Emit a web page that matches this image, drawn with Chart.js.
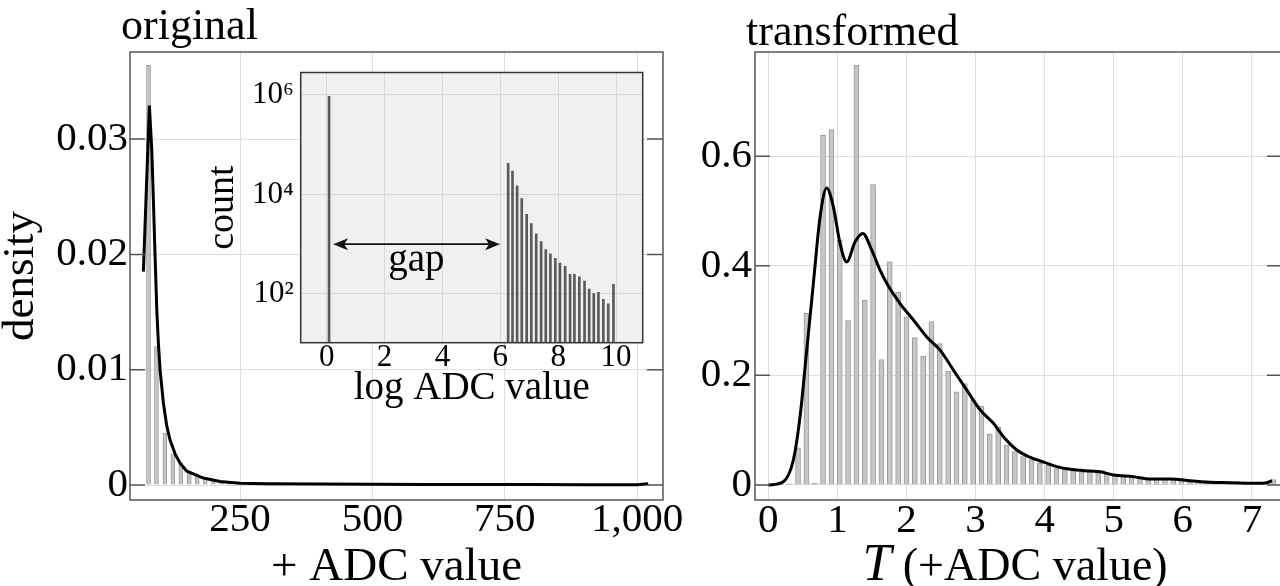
<!DOCTYPE html>
<html>
<head>
<meta charset="utf-8">
<script src="https://cdn.jsdelivr.net/npm/chart.js@4.4.0/dist/chart.umd.min.js"></script>
<style>
  html, body { margin: 0; padding: 0; background: #fff; overflow: hidden; }
  #lienzo { position: relative; width: 1280px; height: 586px; overflow: hidden; }
  canvas { position: absolute; }
  #izq { left: 0; top: 0; }
  #der { left: 690px; top: 0; }
  #inserto { left: 200px; top: 50px; }
</style>
</head>
<body>
<div id="lienzo">
  <canvas id="izq" width="690" height="586"></canvas>
  <canvas id="der" width="600" height="586"></canvas>
  <canvas id="inserto" width="450" height="360"></canvas>
</div>
<script>
// Panel izquierdo: histograma de los valores ADC originales
const binsOriginal = [77, 92, 108, 123, 138, 154, 169, 184, 199, 215, 230, 245, 261, 276, 291, 306,
  322, 337, 352, 368, 383, 398, 413, 429, 444, 459, 475, 490, 505, 520, 536, 551, 566, 582, 597,
  612, 627, 643, 658, 673, 689, 704, 719, 734, 750, 765, 780, 796, 811, 826, 841, 857, 872, 887,
  903, 918, 933, 948, 964, 979, 994, 1010];
const densOriginal = [0.0364, 0.012, 0.0045, 0.0027, 0.0019, 0.00116, 0.00087, 0.00058, 0.00043,
  0.00029, 0.00022, 0.00018, 0.00015, 0.00013, 0.00012, 0.00011, 0.0001, 0.0001, 0.00009, 0.00009,
  0.00008, 0.00008, 0.00007, 0.00007, 0.00007, 0.00006, 0.00006, 0.00006, 0.00006, 0.00005,
  0.00005, 0.00005, 0.00005, 0.00005, 0.00005, 0.00005, 0.00004, 0.00004, 0.00004, 0.00004,
  0.00004, 0.00004, 0.00004, 0.00004, 0.00004, 0.00004, 0.00003, 0.00003, 0.00003, 0.00003,
  0.00003, 0.00003, 0.00003, 0.00003, 0.00003, 0.00002, 0.00002, 0.00002, 0.00002, 0.00003,
  0.00003, 0.00004];
// curva de densidad (KDE) del panel izquierdo
const kdeOriginalX = [67.3, 78.6, 83.2, 86.2, 89.4, 92.6, 95.6, 98.8, 105.1, 111.5, 117.7, 127.2,
  136.6, 149.3, 180.7, 212, 250, 300, 400, 500, 600, 700, 800, 900, 960, 1000, 1021];
const kdeOriginalY = [0.0185, 0.0329, 0.029, 0.0247, 0.0198, 0.0152, 0.0123, 0.01, 0.0071, 0.0051,
  0.0039, 0.0027, 0.0019, 0.0012, 0.0006, 0.0003, 0.00015, 0.0001, 0.00008, 0.00006, 0.00005,
  0.00005, 0.00004, 0.00003, 0.00002, 0.00003, 0.0001];
const ticksOriginalX = [250, 500, 750, 1000];
const etiquetasOriginalX = ['250', '500', '750', '1,000'];
const ticksOriginalY = [0, 0.01, 0.02, 0.03];
const etiquetasOriginalY = ['0', '0.01', '0.02', '0.03'];

// Recuadro: conteos en escala log
const binsLog = [0.08, 6.27, 6.42, 6.58, 6.74, 6.91, 7.07, 7.24, 7.41, 7.57, 7.73, 7.90, 8.06,
  8.24, 8.41, 8.56, 8.73, 8.91, 9.07, 9.23, 9.39, 9.56, 9.73, 9.91];
const conteosLog = [930000, 42170, 29240, 14760, 8260, 3980, 2600, 1620, 1125, 782, 641, 518, 418,
  359, 249, 249, 221, 181, 126, 102, 108, 78, 63, 156];
const ticksLogX = [0, 2, 4, 6, 8, 10];
const ticksLogY = [100, 10000, 1000000];
const etiquetasLogY = ['10²', '10⁴', '10⁶'];
// flecha "gap" (coordenadas del recuadro)
const gapDesde = 0.22, gapHasta = 5.99, gapNivel = 1000;
const gapTextoX = 3.1, gapTextoY = 290;

// Panel derecho: histograma transformado
const binsTransf = [0.068, 0.189, 0.309, 0.430, 0.551, 0.672, 0.792, 0.913, 1.034, 1.154, 1.275,
  1.396, 1.516, 1.637, 1.758, 1.879, 1.999, 2.120, 2.241, 2.361, 2.482, 2.603, 2.723, 2.844, 2.965,
  3.086, 3.206, 3.327, 3.448, 3.568, 3.689, 3.810, 3.930, 4.051, 4.172, 4.292, 4.413, 4.534, 4.655,
  4.775, 4.896, 5.017, 5.137, 5.258, 5.379, 5.499, 5.620, 5.741, 5.861, 5.982, 6.103, 6.223, 6.344,
  6.465, 6.585, 6.706, 6.827, 6.947, 7.068, 7.189, 7.309];
const densTransf = [0.001, 0.001, 0.002, 0.068, 0.313, 0.003, 0.638, 0.6485, 0.447, 0.300, 0.766,
  0.337, 0.548, 0.229, 0.407, 0.352, 0.307, 0.269, 0.235, 0.298, 0.258, 0.208, 0.170, 0.185, 0.155,
  0.144, 0.093, 0.106, 0.073, 0.061, 0.052, 0.046, 0.040, 0.036, 0.030, 0.029, 0.026, 0.024, 0.024,
  0.022, 0.020, 0.018, 0.016, 0.015, 0.014, 0.012, 0.012, 0.0115, 0.011, 0.010, 0.009, 0.0085,
  0.008, 0.0067, 0.006, 0.0055, 0.005, 0.0043, 0.0043, 0.004, 0.010];
const kdeTransfX = [0, 0.217, 0.362, 0.459, 0.556, 0.652, 0.749, 0.845, 0.942, 1.038, 1.135, 1.256,
  1.367, 1.497, 1.617, 1.714, 1.907, 2.1, 2.294, 2.486, 2.679, 2.873, 3.066, 3.258, 3.403, 3.597,
  3.79, 3.997, 4.176, 4.369, 4.658, 4.803, 4.996, 5.285, 5.527, 5.817, 6.106, 6.396, 6.686, 7.072,
  7.217, 7.29];
const kdeTransfY = [0, 0.006, 0.0456, 0.1246, 0.246, 0.368, 0.489, 0.542, 0.507, 0.4406, 0.407,
  0.4436, 0.459, 0.4285, 0.392, 0.368, 0.331, 0.301, 0.270, 0.246, 0.2097, 0.173, 0.137, 0.1125,
  0.088, 0.0638, 0.0504, 0.0413, 0.0334, 0.0286, 0.0255, 0.0243, 0.0182, 0.0152, 0.011, 0.011,
  0.0079, 0.0049, 0.0043, 0.003, 0.004, 0.008];
const ticksTransfX = [0, 1, 2, 3, 4, 5, 6, 7];
const ticksTransfY = [0, 0.2, 0.4, 0.6];
const etiquetasTransfY = ['0', '0.2', '0.4', '0.6'];

const serif = '"Liberation Serif", "Times New Roman", serif';
const grisRejilla = '#dedede';

const aPuntos = (xs, ys) => xs.map((x, i) => ({ x: x, y: ys[i] }));

// marco del panel, marcas hacia dentro y título de panel
const marcoPanel = {
  id: 'marcoPanel',
  afterDraw(chart, args, opts) {
    const { ctx, chartArea: a, scales } = chart;
    ctx.save();
    ctx.strokeStyle = '#555';
    ctx.lineWidth = 1.5;
    ctx.strokeRect(a.left, a.top, a.right - a.left, a.bottom - a.top);
    if (opts.marcas) {
      ctx.beginPath();
      scales.y.ticks.forEach(t => {
        const y = scales.y.getPixelForValue(t.value);
        ctx.moveTo(a.left, y); ctx.lineTo(a.left + 15, y);
        ctx.moveTo(a.right - 16, y); ctx.lineTo(a.right, y);
      });
      ctx.stroke();
    }
    if (opts.titulo) {
      ctx.fillStyle = '#000';
      ctx.font = '44px ' + serif;
      ctx.textAlign = 'left';
      ctx.textBaseline = 'alphabetic';
      ctx.fillText(opts.titulo, a.left + opts.dx, opts.y);
    }
    if (opts.tituloX) {
      // T caligráfica aproximada con cursiva
      const cx = (a.left + a.right) / 2 + opts.tituloX.dx;
      ctx.fillStyle = '#000';
      ctx.textBaseline = 'alphabetic';
      ctx.textAlign = 'left';
      ctx.font = 'italic 52px ' + serif;
      const wT = ctx.measureText('T').width;
      ctx.font = '46px ' + serif;
      const resto = ' (+ADC value)';
      const wR = ctx.measureText(resto).width;
      const x0 = cx - (wT + wR) / 2;
      ctx.font = 'italic 52px ' + serif;
      ctx.fillText('T', x0, opts.tituloX.y);
      ctx.font = '46px ' + serif;
      ctx.fillText(resto, x0 + wT, opts.tituloX.y);
    }
    ctx.restore();
  }
};

// fondo gris del recuadro
const fondoInserto = {
  id: 'fondoInserto',
  beforeDraw(chart) {
    const { ctx, chartArea: a } = chart;
    ctx.save();
    ctx.fillStyle = '#f0f0f0';
    ctx.fillRect(a.left, a.top, a.right - a.left, a.bottom - a.top);
    ctx.restore();
  },
  afterDraw(chart) {
    const { ctx, chartArea: a } = chart;
    ctx.save();
    ctx.strokeStyle = '#333';
    ctx.lineWidth = 1.5;
    ctx.strokeRect(a.left, a.top, a.right - a.left, a.bottom - a.top);
    ctx.restore();
  }
};

// flecha con la palabra "gap"
const flechaGap = {
  id: 'flechaGap',
  afterDatasetsDraw(chart) {
    const { ctx, scales: { x, y } } = chart;
    const x0 = x.getPixelForValue(gapDesde);
    const x1 = x.getPixelForValue(gapHasta);
    const yy = y.getPixelForValue(gapNivel);
    ctx.save();
    ctx.strokeStyle = '#111';
    ctx.fillStyle = '#111';
    ctx.lineWidth = 1.6;
    ctx.beginPath();
    ctx.moveTo(x0 + 10, yy); ctx.lineTo(x1 - 10, yy);
    ctx.stroke();
    ctx.beginPath();
    ctx.moveTo(x0, yy); ctx.lineTo(x0 + 15, yy - 6); ctx.lineTo(x0 + 11, yy); ctx.lineTo(x0 + 15, yy + 6);
    ctx.closePath(); ctx.fill();
    ctx.beginPath();
    ctx.moveTo(x1, yy); ctx.lineTo(x1 - 15, yy - 6); ctx.lineTo(x1 - 11, yy); ctx.lineTo(x1 - 15, yy + 6);
    ctx.closePath(); ctx.fill();
    ctx.font = '39px ' + serif;
    ctx.textAlign = 'center';
    ctx.textBaseline = 'alphabetic';
    ctx.fillStyle = '#000';
    ctx.fillText('gap', x.getPixelForValue(gapTextoX), y.getPixelForValue(gapTextoY));
    ctx.restore();
  }
};

function ejeX(min, max, ticks, etiquetas, alto, titulo, padTick) {
  return {
    type: 'linear', min: min, max: max, offset: false,
    grid: { offset: false, color: grisRejilla, drawTicks: false },
    border: { display: false },
    afterBuildTicks: s => { s.ticks = ticks.map(v => ({ value: v })); },
    afterFit: s => { s.height = alto; },
    ticks: {
      color: '#000', padding: padTick, maxRotation: 0, autoSkip: false,
      font: { family: serif, size: 41, lineHeight: 1 },
      callback: (v, i) => etiquetas[i]
    },
    title: {
      display: !!titulo, text: titulo, color: '#000',
      font: { family: serif, size: 47, lineHeight: 0.8 }, padding: { top: 0, bottom: 0 }
    }
  };
}

function ejeY(min, max, ticks, etiquetas, ancho, titulo, padTick) {
  return {
    type: 'linear', min: min, max: max,
    grid: { color: grisRejilla, drawTicks: false },
    border: { display: false },
    afterBuildTicks: s => { s.ticks = ticks.map(v => ({ value: v })); },
    afterFit: s => { s.width = ancho; },
    ticks: {
      color: '#000', padding: padTick,
      font: { family: serif, size: 41, lineHeight: 1 },
      callback: (v, i) => etiquetas[i]
    },
    title: {
      display: !!titulo, text: titulo, color: '#000',
      font: { family: serif, size: 45, lineHeight: 1 }, padding: { top: -1, bottom: 0 }
    }
  };
}

// ---- panel izquierdo ----
new Chart(document.getElementById('izq'), {
  type: 'bar',
  data: {
    datasets: [
      {
        type: 'line', data: aPuntos(kdeOriginalX, kdeOriginalY), borderColor: '#000',
        borderWidth: 3, pointRadius: 0, tension: 0, order: 0
      },
      {
        data: aPuntos(binsOriginal, densOriginal), backgroundColor: '#c6c6c6',
        borderColor: '#9a9a9a', borderWidth: 1, barThickness: 4, order: 1
      }
    ]
  },
  options: {
    responsive: false, animation: false,
    layout: { padding: { top: 52, right: 27, left: 0, bottom: 0 } },
    plugins: {
      legend: { display: false }, tooltip: { enabled: false },
      marcoPanel: { marcas: true, titulo: 'original', dx: -9, y: 39 }
    },
    scales: {
      x: ejeX(42, 1049, ticksOriginalX, etiquetasOriginalX, 86, '+ ADC value', 0),
      y: ejeY(-0.0013, 0.03755, ticksOriginalY, etiquetasOriginalY, 130, 'density', 2)
    }
  },
  plugins: [marcoPanel]
});

// ---- recuadro (escala log) ----
new Chart(document.getElementById('inserto'), {
  type: 'bar',
  data: {
    datasets: [{
      data: aPuntos(binsLog, conteosLog), backgroundColor: '#5a5a5a',
      borderWidth: 0, barThickness: 2
    }]
  },
  options: {
    responsive: false, animation: false,
    layout: { padding: { top: 19.3, right: 7.3, left: 0, bottom: 0 } },
    plugins: { legend: { display: false }, tooltip: { enabled: false } },
    scales: {
      x: {
        type: 'linear', min: -0.9, max: 10.92, offset: false,
        grid: { offset: false, color: '#d8d8d8', drawTicks: false },
        border: { display: false },
        afterBuildTicks: s => { s.ticks = ticksLogX.map(v => ({ value: v })); },
        afterFit: s => { s.height = 67.3; },
        ticks: { color: '#000', padding: 0, maxRotation: 0, font: { family: serif, size: 31, lineHeight: 1 } },
        title: {
          display: true, text: 'log ADC value', color: '#000',
          font: { family: serif, size: 39, lineHeight: 1 }, padding: { top: 0, bottom: 2 }
        }
      },
      y: {
        type: 'logarithmic', min: 10.5, max: 2.8e6,
        grid: { color: '#d8d8d8', drawTicks: false },
        border: { display: false },
        afterBuildTicks: s => { s.ticks = ticksLogY.map(v => ({ value: v })); },
        afterFit: s => { s.width = 100.7; },
        ticks: {
          color: '#000', padding: 7, font: { family: serif, size: 31, lineHeight: 1 },
          callback: (v, i) => etiquetasLogY[i]
        },
        title: {
          display: true, text: 'count', color: '#000',
          font: { family: serif, size: 38, lineHeight: 1 }, padding: { top: 4, bottom: 0 }
        }
      }
    }
  },
  plugins: [fondoInserto, flechaGap]
});

// ---- panel derecho ----
new Chart(document.getElementById('der'), {
  type: 'bar',
  data: {
    datasets: [
      {
        type: 'line', data: aPuntos(kdeTransfX, kdeTransfY), borderColor: '#000',
        borderWidth: 3, pointRadius: 0, cubicInterpolationMode: 'monotone', order: 0
      },
      {
        data: aPuntos(binsTransf, densTransf), backgroundColor: '#c6c6c6',
        borderColor: '#9a9a9a', borderWidth: 1, barThickness: 5, order: 1
      }
    ]
  },
  options: {
    responsive: false, animation: false,
    layout: { padding: { top: 52, right: 7, left: 0, bottom: 0 } },
    plugins: {
      legend: { display: false }, tooltip: { enabled: false },
      marcoPanel: { marcas: true, titulo: 'transformed', dx: -9, y: 45, tituloX: { dx: -4, y: 580 } }
    },
    scales: {
      x: ejeX(-0.193, 7.45, ticksTransfX, ticksTransfX.map(String), 86, '', 1),
      y: ejeY(-0.0274, 0.79, ticksTransfY, etiquetasTransfY, 65, '', 3)
    }
  },
  plugins: [marcoPanel]
});
</script>
</body>
</html>
